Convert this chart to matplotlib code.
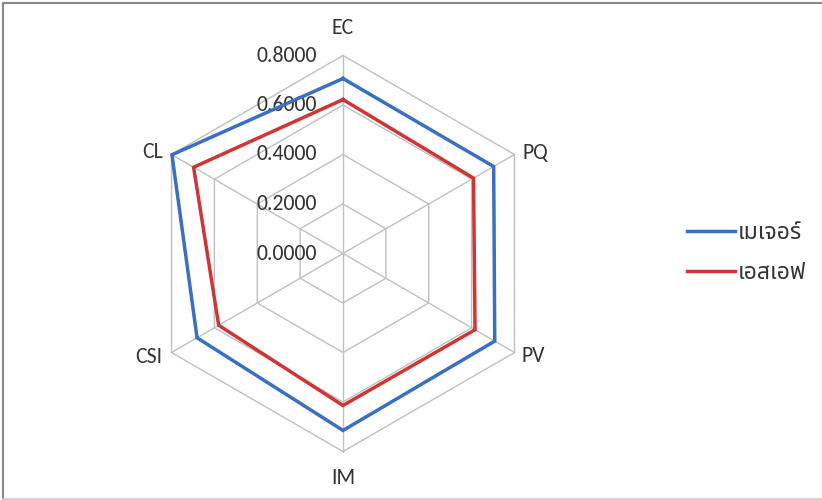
import numpy as np
import matplotlib
matplotlib.use("Agg")
import matplotlib.pyplot as plt
from matplotlib import font_manager as fm
from matplotlib.lines import Line2D

# ---- data ----
categories = ["EC", "PQ", "PV", "IM", "CSI", "CL"]
major_vals = [0.707, 0.703, 0.708, 0.715, 0.681, 0.798]   # เมเจอร์
sf_vals = [0.622, 0.609, 0.616, 0.614, 0.580, 0.697]      # เอสเอฟ
series_names = ["เมเจอร์", "เอสเอฟ"]
r_ticks = [0.0, 0.2, 0.4, 0.6, 0.8]
r_tick_labels = ["0.0000", "0.2000", "0.4000", "0.6000", "0.8000"]


def first_font(names):
    for n in names:
        try:
            fm.findfont(fm.FontProperties(family=n), fallback_to_default=False)
            return n
        except Exception:
            continue
    return "DejaVu Sans"


latin = first_font(["Carlito", "Lato", "Open Sans"])
thai = first_font(["Noto Sans Thai", "Sarabun", "IBM Plex Sans Thai", "Kanit"])
lat_size = 15.7 if latin == "Carlito" else 13.8
plt.rcParams["font.family"] = [latin, thai, "DejaVu Sans"]

W, H = 822, 500
fig = plt.figure(figsize=(W / 100, H / 100), dpi=100)
fig.patch.set_facecolor("white")

cx, cy, R = 343, 253.5, 198
ax = fig.add_axes([(cx - R) / W, (H - cy - R) / H, 2 * R / W, 2 * R / H], projection="polar")
ax.set_theta_zero_location("N")
ax.set_theta_direction(-1)
ax.set_ylim(0, r_ticks[-1])
ax.grid(False)
ax.spines["polar"].set_visible(False)
ax.set_xticks([])
ax.set_yticks([])
ax.patch.set_alpha(0)

n = len(categories)
angles = np.arange(n) * 2 * np.pi / n
ang_c = np.append(angles, angles[0])

grid_col = "#c0c0c0"
for r in r_ticks[1:]:
    ax.plot(ang_c, [r] * (n + 1), color=grid_col, lw=1.0, clip_on=False, zorder=1)
for a in angles:
    ax.plot([a, a], [0, r_ticks[-1]], color=grid_col, lw=1.0, clip_on=False, zorder=1)

colors = ["#3a6fc4", "#d03436"]
for vals, col in zip([major_vals, sf_vals], colors):
    v = np.append(vals, vals[0])
    ax.plot(ang_c, v, color=col, lw=2.5, clip_on=False, zorder=3, solid_joinstyle="miter")

txt_col = "#333333"
# radial tick labels
for r, lab in zip(r_ticks, r_tick_labels):
    ax.annotate(lab, xy=(0, r), xytext=(-26, 0), textcoords="offset pixels",
                ha="right", va="center", fontsize=lat_size, color=txt_col, zorder=2)

# category labels
offsets = {
    "EC": ((0, 27), "center"),
    "PQ": ((8, 1), "left"),
    "PV": ((7, -4), "left"),
    "IM": ((0, -26), "center"),
    "CSI": ((-9, -4), "right"),
    "CL": ((-9, 2), "right"),
}
for a, cat in zip(angles, categories):
    off, ha = offsets[cat]
    ax.annotate(cat, xy=(a, r_ticks[-1]), xytext=off, textcoords="offset pixels",
                ha=ha, va="center", fontsize=lat_size, color=txt_col, annotation_clip=False)

# legend
handles = [Line2D([], [], color=c, lw=2.5) for c in colors]
leg = fig.legend(handles, series_names, loc="center left",
                 bbox_to_anchor=(687 / W, 1 - 253 / H), frameon=False,
                 prop={"family": [thai, "DejaVu Sans"], "size": 16.5},
                 handlelength=2.1, handletextpad=0.1, labelspacing=0.68,
                 borderaxespad=0, borderpad=0)
for t in leg.get_texts():
    t.set_color(txt_col)

# outer border of chart area
fig.add_artist(Line2D([2.5 / W, 2.5 / W], [1.5 / H, 1 - 2.5 / H], color="#8a8a8a", lw=1.5))
fig.add_artist(Line2D([2.5 / W, 1], [1 - 2.5 / H, 1 - 2.5 / H], color="#8a8a8a", lw=1.5))
fig.add_artist(Line2D([2.5 / W, 1], [1.5 / H, 1.5 / H], color="#c8c8c8", lw=1.2))

fig.savefig("out.png", dpi=100, facecolor="white")
